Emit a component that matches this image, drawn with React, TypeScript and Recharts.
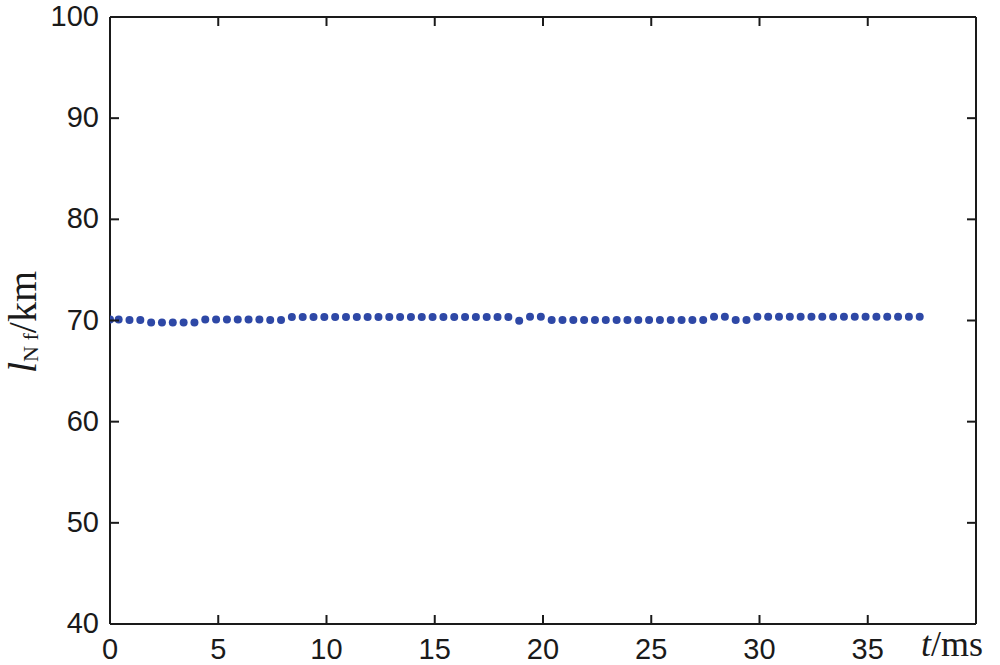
import React from 'react';
import { ScatterChart, Scatter, XAxis, YAxis, Customized } from 'recharts';

const times: number[] = [
  0, 0.4, 0.9, 1.4, 1.9, 2.4, 2.9, 3.4, 3.9, 4.4, 4.9, 5.4, 5.9, 6.4, 6.9, 7.4, 7.9,
  8.4, 8.9, 9.4, 9.9, 10.4, 10.9, 11.4, 11.9, 12.4, 12.9, 13.4, 13.9, 14.4, 14.9,
  15.4, 15.9, 16.4, 16.9, 17.4, 17.9, 18.4, 18.9, 19.4, 19.9, 20.4, 20.9, 21.4,
  21.9, 22.4, 22.9, 23.4, 23.9, 24.4, 24.9, 25.4, 25.9, 26.4, 26.9, 27.4, 27.9,
  28.4, 28.9, 29.4, 29.9, 30.4, 30.9, 31.4, 31.9, 32.4, 32.9, 33.4, 33.9, 34.4,
  34.9, 35.4, 35.9, 36.4, 36.9, 37.4,
];

const lengths: number[] = [
  70.1, 70.1, 70.05, 70.05, 69.8, 69.8, 69.8, 69.8, 69.8, 70.1, 70.1, 70.1, 70.1,
  70.1, 70.1, 70.05, 70.05,
  70.35, 70.35, 70.35, 70.35, 70.35, 70.35, 70.35, 70.35, 70.35, 70.35, 70.35,
  70.35, 70.35, 70.35, 70.35, 70.35, 70.35, 70.35, 70.35, 70.35, 70.35,
  69.98, 70.38, 70.38,
  70.05, 70.05, 70.05, 70.05, 70.05, 70.05, 70.05, 70.05, 70.05, 70.05, 70.05,
  70.05, 70.05, 70.05, 70.05,
  70.38, 70.38, 70.05, 70.05,
  70.38, 70.38, 70.38, 70.38, 70.38, 70.38, 70.38, 70.38, 70.38, 70.38, 70.38,
  70.38, 70.38, 70.38, 70.38, 70.38,
];

const xTicks: number[] = [0, 5, 10, 15, 20, 25, 30, 35];
const yTicks: number[] = [40, 50, 60, 70, 80, 90, 100];

const data = times.map((t, i) => ({ t, l: lengths[i] }));

const INK = '#1a1a1a';
const TICK_FONT = '"Liberation Sans", Arial, sans-serif';
const SERIF = '"Liberation Serif", "Times New Roman", serif';
const TL = 9;

const BottomTick = (p: any) => (
  <g>
    <line x1={p.x} x2={p.x} y1={p.y} y2={p.y - TL} stroke={INK} strokeWidth={2} />
    <text x={p.x} y={p.y + 35} textAnchor="middle" fontFamily={TICK_FONT} fontSize={29} fill={INK}>
      {p.payload.value}
    </text>
  </g>
);
const TopTick = (p: any) => (
  <line x1={p.x} x2={p.x} y1={p.y} y2={p.y + TL} stroke={INK} strokeWidth={2} />
);
const LeftTick = (p: any) => (
  <g>
    <line x1={p.x} x2={p.x + TL} y1={p.y} y2={p.y} stroke={INK} strokeWidth={2} />
    <text x={p.x - 11} y={p.y - 1} textAnchor="end" dominantBaseline="central" fontFamily={TICK_FONT} fontSize={29} fill={INK}>
      {p.payload.value}
    </text>
  </g>
);
const RightTick = (p: any) => (
  <line x1={p.x} x2={p.x - TL} y1={p.y} y2={p.y} stroke={INK} strokeWidth={2} />
);

const Dot = (p: any) => <circle cx={p.cx} cy={p.cy} r={4} fill="#2E48A6" />;
const NoDot = () => <g />;

const Labels = () => (
  <g>
    <text
      transform="translate(36,322) rotate(-90)"
      textAnchor="middle"
      fontFamily={SERIF}
      fontSize={40}
      fill={INK}
    >
      <tspan fontStyle="italic">l</tspan>
      <tspan fontSize={22} dy={2}>N f</tspan>
      <tspan dy={-2}>/km</tspan>
    </text>
    <text x={921} y={656} fontFamily={SERIF} fontSize={36} fill={INK}>
      <tspan fontStyle="italic">t</tspan>/ms
    </text>
  </g>
);

export default function App() {
  return (
    <div style={{ position: 'absolute', left: 0, top: 0, width: 1000, height: 665, background: '#fff' }}>
      <ScatterChart width={1000} height={665} margin={{ top: 16, right: 23, bottom: 0, left: 0 }}>
        <XAxis
          xAxisId="b"
          type="number"
          dataKey="t"
          domain={[0, 40]}
          ticks={xTicks}
          interval={0}
          height={41}
          tickSize={0}
          tickMargin={0}
          tick={BottomTick}
          axisLine={{ stroke: INK, strokeWidth: 2 }}
          allowDataOverflow
        />
        <XAxis
          xAxisId="t"
          orientation="top"
          type="number"
          dataKey="t"
          domain={[0, 40]}
          ticks={xTicks}
          interval={0}
          height={1}
          tickSize={0}
          tickMargin={0}
          tick={TopTick}
          axisLine={{ stroke: INK, strokeWidth: 2 }}
          allowDataOverflow
        />
        <YAxis
          yAxisId="l"
          type="number"
          dataKey="l"
          domain={[40, 100]}
          ticks={yTicks}
          interval={0}
          width={110}
          tickSize={0}
          tickMargin={0}
          tick={LeftTick}
          axisLine={{ stroke: INK, strokeWidth: 2 }}
          allowDataOverflow
        />
        <YAxis
          yAxisId="r"
          orientation="right"
          type="number"
          dataKey="l"
          domain={[40, 100]}
          ticks={yTicks}
          interval={0}
          width={1}
          tickSize={0}
          tickMargin={0}
          tick={RightTick}
          axisLine={{ stroke: INK, strokeWidth: 2 }}
          allowDataOverflow
        />
        <Scatter xAxisId="t" yAxisId="r" data={data} shape={NoDot} isAnimationActive={false} />
        <Scatter xAxisId="b" yAxisId="l" data={data} shape={Dot} isAnimationActive={false} />
        <Customized component={Labels} />
      </ScatterChart>
    </div>
  );
}
